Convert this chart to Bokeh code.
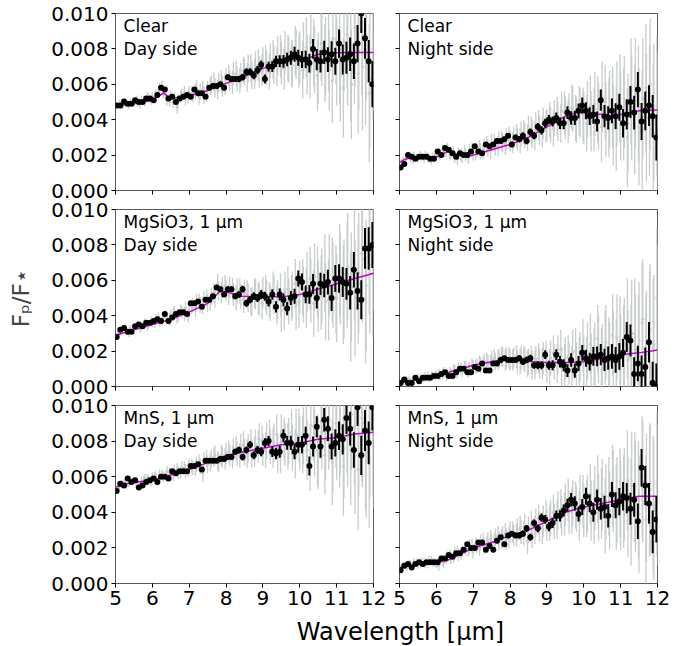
import numpy as np
from bokeh.plotting import figure
from bokeh.layouts import column, row
from bokeh.models import FixedTicker, PrintfTickFormatter, Label, CustomLabelingPolicy
from bokeh.embed import file_html
from bokeh.resources import INLINE

FONT = "DejaVu Sans"

# ---------------- data ----------------
x_ticks = [5, 6, 7, 8, 9, 10, 11, 12]
y_ticks = [0.000, 0.002, 0.004, 0.006, 0.008, 0.010]

panel_titles = ["Clear", "Clear", "MgSiO3, 1 μm", "MgSiO3, 1 μm", "MnS, 1 μm", "MnS, 1 μm"]
panel_sides = ["Day side", "Night side", "Day side", "Night side", "Day side", "Night side"]

# binned (black) spectra
clear_day_bin = [0.0048, 0.0048, 0.00503, 0.0049, 0.0049, 0.0051, 0.0050, 0.0050, 0.0052, 0.0052,
                 0.0051, 0.0054, 0.0058, 0.0057, 0.0052, 0.0053, 0.0050, 0.0052, 0.0053, 0.0054,
                 0.0053, 0.0057, 0.0055, 0.0055, 0.0053, 0.0058, 0.0059, 0.0059, 0.0060, 0.0058,
                 0.0064, 0.0063, 0.0063, 0.0063, 0.0064, 0.0067, 0.0067, 0.0065, 0.0068, 0.0071,
                 0.0063, 0.0070, 0.0070, 0.0073, 0.0073, 0.0073, 0.0074, 0.0075, 0.0077, 0.0075,
                 0.0074, 0.0074, 0.0072, 0.0080, 0.0074, 0.0073, 0.0078, 0.0074, 0.0077, 0.0073,
                 0.0083, 0.0074, 0.0075, 0.0077, 0.0073, 0.0083, 0.0100, 0.0086, 0.0073, 0.0060]
clear_night_bin = [0.0013, 0.0015, 0.0020, 0.0019, 0.0018, 0.0019, 0.0019, 0.0019, 0.0018, 0.0018,
                   0.0022, 0.0020, 0.0024, 0.0023, 0.0021, 0.0019, 0.0021, 0.0020, 0.0020, 0.0022,
                   0.0025, 0.0022, 0.0021, 0.0026, 0.0025, 0.0026, 0.0028, 0.0028, 0.0029, 0.0031,
                   0.0026, 0.0030, 0.0029, 0.0031, 0.0028, 0.0033, 0.0031, 0.0036, 0.0034, 0.0038,
                   0.0040, 0.0039, 0.0041, 0.0038, 0.0038, 0.0044, 0.0041, 0.0041, 0.0045, 0.0048,
                   0.0045, 0.0042, 0.0043, 0.0039, 0.0051, 0.0042, 0.0041, 0.0045, 0.0042, 0.0047,
                   0.0038, 0.0043, 0.0050, 0.0044, 0.0057, 0.0039, 0.0045, 0.0048, 0.0042, 0.0030]
mgsio3_day_bin = [0.0028, 0.0032, 0.0033, 0.0031, 0.0031, 0.0034, 0.0035, 0.0034, 0.0036, 0.0036,
                  0.0037, 0.0038, 0.0037, 0.0041, 0.0037, 0.0039, 0.0041, 0.0042, 0.0042, 0.0041,
                  0.0047, 0.0047, 0.0048, 0.0045, 0.0049, 0.0049, 0.0051, 0.0056, 0.0055, 0.0052,
                  0.0055, 0.0055, 0.0051, 0.0052, 0.0055, 0.0047, 0.0049, 0.0051, 0.0050, 0.0052,
                  0.0051, 0.0048, 0.0052, 0.0045, 0.0052, 0.0049, 0.0044, 0.0050, 0.0051, 0.0061,
                  0.0059, 0.0052, 0.0052, 0.0058, 0.0050, 0.0058, 0.0057, 0.0059, 0.0050, 0.0061,
                  0.0061, 0.0059, 0.0058, 0.0053, 0.0066, 0.0054, 0.0049, 0.0078, 0.0078, 0.0080]
mgsio3_night_bin = [0.0002, 0.0004, 0.0002, 0.0002, 0.0005, 0.0003, 0.0005, 0.0005, 0.0005, 0.0006,
                    0.0006, 0.0007, 0.0008, 0.0006, 0.0006, 0.0008, 0.0010, 0.0010, 0.0008, 0.0008,
                    0.0011, 0.0010, 0.0013, 0.0009, 0.0009, 0.0013, 0.0013, 0.0015, 0.0016, 0.0015,
                    0.0015, 0.0015, 0.0016, 0.0014, 0.0015, 0.0016, 0.0012, 0.0012, 0.0012, 0.0018,
                    0.0012, 0.0012, 0.0018, 0.0014, 0.0012, 0.0009, 0.0015, 0.0009, 0.0013, 0.0019,
                    0.0016, 0.0014, 0.0017, 0.0017, 0.0018, 0.0015, 0.0016, 0.0017, 0.0015, 0.0017,
                    0.0019, 0.0028, 0.0026, 0.0007, 0.0013, 0.0007, 0.0011, 0.0025, 0.0002, 0.0000]
mns_day_bin = [0.0052, 0.0056, 0.0055, 0.0059, 0.0057, 0.0058, 0.0054, 0.0055, 0.0057, 0.0058,
               0.0059, 0.0057, 0.0060, 0.0060, 0.0059, 0.0063, 0.0062, 0.0063, 0.0063, 0.0063,
               0.0066, 0.0066, 0.0067, 0.0064, 0.0069, 0.0069, 0.0069, 0.0069, 0.0070, 0.0070,
               0.0071, 0.0071, 0.0074, 0.0075, 0.0071, 0.0075, 0.0078, 0.0072, 0.0075, 0.0074,
               0.0079, 0.0080, 0.0074, 0.0073, 0.0074, 0.0083, 0.0079, 0.0079, 0.0074, 0.0078,
               0.0078, 0.0083, 0.0066, 0.0077, 0.0088, 0.0077, 0.0092, 0.0087, 0.0077, 0.0079,
               0.0083, 0.0081, 0.0093, 0.0087, 0.0075, 0.0099, 0.0072, 0.0086, 0.0079, 0.0099]
mns_night_bin = [0.00075, 0.0010, 0.0011, 0.0009, 0.0011, 0.0012, 0.0011, 0.0012, 0.0012, 0.0012,
                 0.0012, 0.0014, 0.0014, 0.0016, 0.0015, 0.0017, 0.0017, 0.0019, 0.0022, 0.0020,
                 0.0020, 0.0023, 0.0023, 0.0019, 0.0021, 0.0019, 0.0024, 0.0026, 0.0022, 0.0027,
                 0.0028, 0.0027, 0.0027, 0.0028, 0.0031, 0.0026, 0.0034, 0.0031, 0.0037, 0.0036,
                 0.0032, 0.0034, 0.0038, 0.0038, 0.0041, 0.0044, 0.0047, 0.0045, 0.0039, 0.0043,
                 0.0049, 0.0045, 0.0040, 0.0047, 0.0042, 0.0043, 0.0038, 0.0050, 0.0044, 0.0046,
                 0.0049, 0.0048, 0.0042, 0.0047, 0.0035, 0.0065, 0.0055, 0.0045, 0.0029, 0.0036]

bin_err = [0.0001, 0.0001, 0.0001, 0.0001, 0.0001, 0.0001, 0.0001, 0.0001, 0.0001, 0.0001,
           0.0001, 0.0001, 0.0001, 0.0001, 0.0001, 0.0001, 0.0001, 0.0001, 0.0001, 0.0001,
           0.0001, 0.0001, 0.00012, 0.00012, 0.00012, 0.00012, 0.00014, 0.00014, 0.00014, 0.00015,
           0.00015, 0.00016, 0.00017, 0.00018, 0.00019, 0.0002, 0.0002, 0.00022, 0.00023, 0.00025,
           0.00026, 0.00028, 0.0003, 0.00032, 0.00034, 0.00036, 0.00038, 0.0004, 0.00042, 0.00045,
           0.00048, 0.0005, 0.00053, 0.00056, 0.0006, 0.00063, 0.00066, 0.0007, 0.00073, 0.00076,
           0.0008, 0.00085, 0.0009, 0.00095, 0.001, 0.00105, 0.0011, 0.00115, 0.0012, 0.0013]

# full-resolution (grey) spectra, two interleaved sets per panel
clear_day_raw = [0.0048, 0.0049, 0.0050, 0.0048, 0.0050, 0.0051, 0.0049, 0.0051, 0.0053, 0.0051,
                 0.0053, 0.0056, 0.0059, 0.0054, 0.0051, 0.0050, 0.0047, 0.0053, 0.0055, 0.0053,
                 0.0055, 0.0056, 0.0053, 0.0057, 0.0055, 0.0059, 0.0061, 0.0057, 0.0062, 0.0060,
                 0.0065, 0.0061, 0.0066, 0.0062, 0.0068, 0.0064, 0.0069, 0.0066, 0.0071, 0.0068,
                 0.0072, 0.0067, 0.0074, 0.0070, 0.0076, 0.0069, 0.0075, 0.0072, 0.0079, 0.0073,
                 0.0068, 0.0081, 0.0070, 0.0078, 0.0065, 0.0083, 0.0072, 0.0079, 0.0062, 0.0085,
                 0.0075, 0.0058, 0.0088, 0.0070, 0.0082, 0.0066, 0.0090, 0.0074, 0.0055, 0.0080]
clear_day_raw2 = [0.0049, 0.0048, 0.0049, 0.0050, 0.0049, 0.0050, 0.0051, 0.0050, 0.0052, 0.0053,
                  0.0054, 0.0058, 0.0055, 0.0051, 0.0053, 0.0052, 0.0051, 0.0054, 0.0052, 0.0055,
                  0.0054, 0.0058, 0.0056, 0.0054, 0.0057, 0.0060, 0.0058, 0.0061, 0.0059, 0.0063,
                  0.0062, 0.0066, 0.0063, 0.0065, 0.0067, 0.0069, 0.0065, 0.0070, 0.0067, 0.0072,
                  0.0069, 0.0073, 0.0071, 0.0076, 0.0072, 0.0078, 0.0074, 0.0071, 0.0077, 0.0075,
                  0.0079, 0.0071, 0.0084, 0.0074, 0.0069, 0.0080, 0.0076, 0.0068, 0.0086, 0.0073,
                  0.0065, 0.0084, 0.0078, 0.0060, 0.0092, 0.0079, 0.0070, 0.0088, 0.0063, 0.0085]
clear_night_raw = [0.0016, 0.0018, 0.0020, 0.0017, 0.0019, 0.0020, 0.0018, 0.0019, 0.0017, 0.0020,
                   0.0021, 0.0023, 0.0022, 0.0020, 0.0021, 0.0018, 0.0020, 0.0022, 0.0019, 0.0023,
                   0.0021, 0.0024, 0.0022, 0.0026, 0.0023, 0.0027, 0.0025, 0.0028, 0.0026, 0.0030,
                   0.0027, 0.0031, 0.0028, 0.0033, 0.0030, 0.0034, 0.0031, 0.0037, 0.0033, 0.0036,
                   0.0040, 0.0035, 0.0042, 0.0038, 0.0044, 0.0039, 0.0047, 0.0041, 0.0045, 0.0043,
                   0.0038, 0.0048, 0.0040, 0.0046, 0.0036, 0.0050, 0.0041, 0.0047, 0.0035, 0.0052,
                   0.0043, 0.0030, 0.0056, 0.0040, 0.0049, 0.0034, 0.0058, 0.0045, 0.0032, 0.0048]
clear_night_raw2 = [0.0017, 0.0019, 0.0018, 0.0020, 0.0018, 0.0019, 0.0020, 0.0018, 0.0019, 0.0021,
                    0.0020, 0.0022, 0.0024, 0.0021, 0.0019, 0.0021, 0.0019, 0.0020, 0.0022, 0.0021,
                    0.0023, 0.0022, 0.0025, 0.0024, 0.0027, 0.0025, 0.0028, 0.0027, 0.0029, 0.0028,
                    0.0030, 0.0029, 0.0032, 0.0031, 0.0035, 0.0032, 0.0036, 0.0034, 0.0038, 0.0037,
                    0.0037, 0.0041, 0.0039, 0.0045, 0.0041, 0.0043, 0.0046, 0.0040, 0.0044, 0.0041,
                    0.0046, 0.0039, 0.0049, 0.0042, 0.0053, 0.0040, 0.0046, 0.0037, 0.0049, 0.0042,
                    0.0050, 0.0038, 0.0047, 0.0055, 0.0036, 0.0052, 0.0041, 0.0060, 0.0044, 0.0038]
mgsio3_day_raw = [0.0029, 0.0031, 0.0033, 0.0030, 0.0032, 0.0034, 0.0033, 0.0035, 0.0034, 0.0037,
                  0.0036, 0.0039, 0.0037, 0.0040, 0.0038, 0.0041, 0.0039, 0.0043, 0.0041, 0.0040,
                  0.0045, 0.0044, 0.0048, 0.0046, 0.0050, 0.0048, 0.0053, 0.0058, 0.0053, 0.0057,
                  0.0052, 0.0055, 0.0050, 0.0054, 0.0049, 0.0052, 0.0048, 0.0053, 0.0050, 0.0047,
                  0.0053, 0.0049, 0.0054, 0.0046, 0.0052, 0.0044, 0.0055, 0.0050, 0.0058, 0.0048,
                  0.0056, 0.0050, 0.0061, 0.0047, 0.0059, 0.0053, 0.0064, 0.0049, 0.0060, 0.0055,
                  0.0066, 0.0052, 0.0063, 0.0045, 0.0070, 0.0058, 0.0075, 0.0050, 0.0080, 0.0068]
mgsio3_day_raw2 = [0.0030, 0.0032, 0.0031, 0.0033, 0.0032, 0.0035, 0.0034, 0.0036, 0.0035, 0.0036,
                   0.0038, 0.0037, 0.0039, 0.0038, 0.0040, 0.0042, 0.0040, 0.0042, 0.0044, 0.0043,
                   0.0046, 0.0048, 0.0046, 0.0049, 0.0047, 0.0051, 0.0050, 0.0054, 0.0056, 0.0054,
                   0.0056, 0.0052, 0.0054, 0.0051, 0.0053, 0.0050, 0.0048, 0.0052, 0.0049, 0.0053,
                   0.0050, 0.0047, 0.0052, 0.0049, 0.0043, 0.0053, 0.0048, 0.0052, 0.0046, 0.0056,
                   0.0052, 0.0059, 0.0054, 0.0062, 0.0051, 0.0057, 0.0048, 0.0063, 0.0057, 0.0050,
                   0.0061, 0.0055, 0.0068, 0.0056, 0.0050, 0.0064, 0.0072, 0.0057, 0.0069, 0.0083]
mgsio3_night_raw = [0.0003, 0.0003, 0.0004, 0.0004, 0.0004, 0.0005, 0.0005, 0.0006, 0.0006, 0.0006,
                    0.0007, 0.0007, 0.0006, 0.0008, 0.0009, 0.0008, 0.0010, 0.0011, 0.0009, 0.0012,
                    0.0011, 0.0013, 0.0012, 0.0014, 0.0013, 0.0016, 0.0015, 0.0017, 0.0015, 0.0016,
                    0.0015, 0.0017, 0.0014, 0.0016, 0.0013, 0.0015, 0.0012, 0.0016, 0.0013, 0.0017,
                    0.0011, 0.0019, 0.0013, 0.0021, 0.0012, 0.0017, 0.0010, 0.0020, 0.0014, 0.0023,
                    0.0012, 0.0024, 0.0015, 0.0027, 0.0013, 0.0022, 0.0017, 0.0029, 0.0014, 0.0026,
                    0.0020, 0.0033, 0.0016, 0.0030, 0.0019, 0.0036, 0.0015, 0.0028, 0.0022, 0.0050]
mgsio3_night_raw2 = [0.0003, 0.0004, 0.0003, 0.0004, 0.0005, 0.0004, 0.0006, 0.0005, 0.0006, 0.0007,
                     0.0006, 0.0008, 0.0007, 0.0007, 0.0009, 0.0010, 0.0009, 0.0011, 0.0010, 0.0011,
                     0.0012, 0.0012, 0.0014, 0.0013, 0.0015, 0.0014, 0.0016, 0.0017, 0.0016, 0.0015,
                     0.0016, 0.0014, 0.0016, 0.0015, 0.0014, 0.0012, 0.0015, 0.0013, 0.0016, 0.0011,
                     0.0016, 0.0014, 0.0018, 0.0011, 0.0016, 0.0013, 0.0019, 0.0012, 0.0017, 0.0014,
                     0.0020, 0.0013, 0.0018, 0.0021, 0.0015, 0.0025, 0.0014, 0.0020, 0.0028, 0.0016,
                     0.0024, 0.0015, 0.0030, 0.0021, 0.0026, 0.0038, 0.0018, 0.0032, 0.0024, 0.0040]
mns_day_raw = [0.0055, 0.0056, 0.0058, 0.0056, 0.0057, 0.0056, 0.0055, 0.0058, 0.0059, 0.0057,
               0.0060, 0.0058, 0.0061, 0.0060, 0.0062, 0.0061, 0.0064, 0.0062, 0.0065, 0.0064,
               0.0066, 0.0065, 0.0068, 0.0062, 0.0070, 0.0068, 0.0071, 0.0069, 0.0072, 0.0070,
               0.0074, 0.0071, 0.0076, 0.0072, 0.0078, 0.0073, 0.0079, 0.0074, 0.0077, 0.0080,
               0.0075, 0.0082, 0.0076, 0.0084, 0.0074, 0.0081, 0.0077, 0.0085, 0.0073, 0.0083,
               0.0078, 0.0086, 0.0070, 0.0088, 0.0075, 0.0091, 0.0072, 0.0087, 0.0068, 0.0090,
               0.0080, 0.0066, 0.0092, 0.0075, 0.0088, 0.0064, 0.0093, 0.0078, 0.0070, 0.0089]
mns_day_raw2 = [0.0054, 0.0056, 0.0055, 0.0057, 0.0058, 0.0056, 0.0057, 0.0059, 0.0058, 0.0060,
                0.0059, 0.0061, 0.0060, 0.0063, 0.0061, 0.0063, 0.0062, 0.0065, 0.0063, 0.0066,
                0.0065, 0.0067, 0.0066, 0.0069, 0.0067, 0.0070, 0.0072, 0.0068, 0.0071, 0.0073,
                0.0072, 0.0075, 0.0073, 0.0077, 0.0074, 0.0076, 0.0073, 0.0078, 0.0081, 0.0075,
                0.0080, 0.0077, 0.0079, 0.0073, 0.0083, 0.0078, 0.0080, 0.0076, 0.0084, 0.0079,
                0.0083, 0.0075, 0.0089, 0.0079, 0.0073, 0.0085, 0.0080, 0.0092, 0.0076, 0.0083,
                0.0087, 0.0076, 0.0084, 0.0095, 0.0072, 0.0083, 0.0090, 0.0074, 0.0087, 0.0082]
mns_night_raw = [0.0009, 0.0010, 0.0011, 0.0010, 0.0012, 0.0011, 0.0012, 0.0011, 0.0013, 0.0012,
                 0.0010, 0.0013, 0.0014, 0.0016, 0.0015, 0.0018, 0.0017, 0.0020, 0.0019, 0.0021,
                 0.0022, 0.0020, 0.0024, 0.0022, 0.0025, 0.0023, 0.0027, 0.0025, 0.0028, 0.0026,
                 0.0029, 0.0027, 0.0031, 0.0028, 0.0024, 0.0033, 0.0030, 0.0036, 0.0031, 0.0038,
                 0.0034, 0.0040, 0.0036, 0.0042, 0.0039, 0.0047, 0.0041, 0.0044, 0.0038, 0.0046,
                 0.0042, 0.0050, 0.0040, 0.0053, 0.0045, 0.0038, 0.0049, 0.0055, 0.0043, 0.0051,
                 0.0046, 0.0058, 0.0040, 0.0054, 0.0047, 0.0060, 0.0036, 0.0052, 0.0044, 0.0056]
mns_night_raw2 = [0.0010, 0.0009, 0.0011, 0.0012, 0.0010, 0.0012, 0.0011, 0.0013, 0.0012, 0.0011,
                  0.0013, 0.0012, 0.0015, 0.0014, 0.0017, 0.0016, 0.0018, 0.0019, 0.0021, 0.0018,
                  0.0021, 0.0023, 0.0021, 0.0024, 0.0023, 0.0026, 0.0024, 0.0027, 0.0025, 0.0029,
                  0.0027, 0.0030, 0.0029, 0.0032, 0.0030, 0.0028, 0.0034, 0.0032, 0.0035, 0.0033,
                  0.0037, 0.0035, 0.0041, 0.0038, 0.0044, 0.0040, 0.0045, 0.0042, 0.0047, 0.0041,
                  0.0045, 0.0041, 0.0048, 0.0043, 0.0050, 0.0046, 0.0041, 0.0052, 0.0047, 0.0044,
                  0.0050, 0.0043, 0.0055, 0.0049, 0.0039, 0.0057, 0.0048, 0.0053, 0.0041, 0.0050]

raw_err = [0.0002, 0.0002, 0.0002, 0.0002, 0.0002, 0.00025, 0.00025, 0.00025, 0.00025, 0.00025,
           0.0003, 0.0003, 0.0003, 0.0003, 0.00035, 0.00035, 0.00035, 0.00035, 0.0004, 0.0004,
           0.0004, 0.00045, 0.00045, 0.0005, 0.0005, 0.0005, 0.00055, 0.00055, 0.0006, 0.0006,
           0.0006, 0.00065, 0.0007, 0.0007, 0.00075, 0.0008, 0.0008, 0.00085, 0.0009, 0.0009,
           0.001, 0.001, 0.0011, 0.0011, 0.0012, 0.0012, 0.0013, 0.0013, 0.0014, 0.0015,
           0.0016, 0.0017, 0.0018, 0.0019, 0.002, 0.0021, 0.0022, 0.0023, 0.0024, 0.0025,
           0.0026, 0.0028, 0.003, 0.0031, 0.0033, 0.0034, 0.0036, 0.0037, 0.0039, 0.004]

# model curves (magenta)
clear_day_model_x = [5.0, 5.5, 6.0, 6.15, 6.3, 6.5, 7.0, 7.5, 8.0, 8.5, 9.0, 9.5, 9.9, 10.2, 10.5, 11.0, 11.5, 12.0]
clear_day_model_y = [0.00478, 0.0049, 0.0051, 0.0053, 0.0055, 0.0052, 0.00535, 0.00565, 0.00605, 0.00645,
                     0.0069, 0.00725, 0.0075, 0.00745, 0.0077, 0.00778, 0.0078, 0.0078]
clear_night_model_x = [5.0, 5.2, 5.5, 6.0, 6.3, 6.6, 6.8, 7.0, 7.5, 8.0, 8.5, 9.0, 9.5, 9.8, 10.0, 10.5, 10.8, 11.0, 11.5, 12.0]
clear_night_model_y = [0.0016, 0.0018, 0.0019, 0.0019, 0.0022, 0.0020, 0.0019, 0.0020, 0.0023, 0.0026,
                       0.0030, 0.0036, 0.0042, 0.0044, 0.0044, 0.0043, 0.0042, 0.0043, 0.0045, 0.00455]
mgsio3_day_model_x = [5.0, 5.5, 6.0, 6.5, 7.0, 7.5, 7.85, 8.1, 8.4, 8.7, 9.0, 9.5, 10.0, 10.5, 11.0, 11.5, 12.0]
mgsio3_day_model_y = [0.0029, 0.0032, 0.0035, 0.0038, 0.0042, 0.0047, 0.0054, 0.0053, 0.0051, 0.00508,
                      0.0051, 0.00505, 0.0052, 0.0055, 0.0058, 0.0061, 0.0064]
mgsio3_night_model_x = [5.0, 5.5, 6.0, 6.5, 7.0, 7.5, 7.9, 8.3, 8.6, 9.0, 9.5, 10.0, 10.5, 11.0, 11.5, 12.0]
mgsio3_night_model_y = [0.0002, 0.0004, 0.0006, 0.0009, 0.0012, 0.0014, 0.00155, 0.00155, 0.0014, 0.00135,
                        0.00135, 0.0014, 0.0016, 0.0018, 0.0019, 0.00206]
mns_day_model_x = [5.0, 5.3, 5.6, 6.0, 6.5, 7.0, 7.5, 8.0, 8.5, 9.0, 9.5, 10.0, 10.5, 11.0, 11.5, 12.0]
mns_day_model_y = [0.0054, 0.0056, 0.0057, 0.0058, 0.0061, 0.0064, 0.0068, 0.0072, 0.0074, 0.0076,
                   0.0078, 0.0079, 0.0081, 0.0082, 0.0084, 0.0085]
mns_night_model_x = [5.0, 5.5, 6.0, 6.3, 6.6, 7.0, 7.5, 8.0, 8.5, 9.0, 9.5, 10.0, 10.5, 11.0, 11.5, 12.0]
mns_night_model_y = [0.0009, 0.0011, 0.0012, 0.0013, 0.0016, 0.0020, 0.0023, 0.0027, 0.0030, 0.0035,
                     0.0040, 0.0043, 0.0045, 0.0047, 0.0049, 0.0049]

bins = [clear_day_bin, clear_night_bin, mgsio3_day_bin, mgsio3_night_bin, mns_day_bin, mns_night_bin]
raws = [clear_day_raw, clear_night_raw, mgsio3_day_raw, mgsio3_night_raw, mns_day_raw, mns_night_raw]
raws2 = [clear_day_raw2, clear_night_raw2, mgsio3_day_raw2, mgsio3_night_raw2, mns_day_raw2, mns_night_raw2]
models = [(clear_day_model_x, clear_day_model_y), (clear_night_model_x, clear_night_model_y),
          (mgsio3_day_model_x, mgsio3_day_model_y), (mgsio3_night_model_x, mgsio3_night_model_y),
          (mns_day_model_x, mns_day_model_y), (mns_night_model_x, mns_night_model_y)]

bin_x = np.linspace(5.03, 11.97, len(clear_day_bin))
raw_x = np.linspace(5.063, 11.985, len(clear_day_raw))
raw2_x = np.linspace(5.097, 12.0, len(clear_day_raw2))

GREY = "#c8cccc"
MAGENTA = "#cc00cc"

# figure heights / borders per row (rows overlap by 13 px so tick labels are never cut)
heights = [206, 209, 225]
tops = [13, 16, 16]
bottoms = [16, 16, 31]


def hide_labels(ax):
    ax.major_label_policy = CustomLabelingPolicy(code="return new Set()")
    ax.major_label_text_font_size = "1px"
    ax.major_label_standoff = 0


def make_panel(k):
    r, c = divmod(k, 2)
    p = figure(width=386 if c == 0 else 301, height=heights[r],
               x_range=(5, 12), y_range=(0, 0.010),
               output_backend="svg", toolbar_location=None,
               min_border_left=115 if c == 0 else 13,
               min_border_right=13 if c == 0 else 30,
               min_border_top=tops[r], min_border_bottom=bottoms[r],
               border_fill_color=None, background_fill_color=None)
    p.grid.visible = False
    p.outline_line_color = "black"
    p.outline_line_width = 1
    p.outline_line_alpha = 0.65
    p.xaxis.ticker = FixedTicker(ticks=x_ticks)
    p.yaxis.ticker = FixedTicker(ticks=y_ticks)
    p.yaxis.formatter = PrintfTickFormatter(format="%.3f")
    p.axis.axis_line_color = None
    p.axis.major_tick_in = 0
    p.axis.major_tick_out = 4
    p.axis.major_tick_line_color = "black"
    p.axis.minor_tick_line_color = None
    p.axis.major_label_text_font = FONT
    p.axis.major_label_text_font_size = "20px"
    p.axis.major_label_text_color = "black"
    p.axis.major_label_standoff = 3
    if r < 2:
        hide_labels(p.xaxis[0])
    if c == 1:
        hide_labels(p.yaxis[0])
    if k == 2:
        p.yaxis.axis_label = "Fₚ/F⋆"
        p.yaxis.axis_label_text_font = FONT
        p.yaxis.axis_label_text_font_size = "23px"
        p.yaxis.axis_label_text_font_style = "normal"
        p.yaxis.axis_label_standoff = 14

    e_raw = np.array(raw_err)
    for xs, ys in ((raw_x, raws[k]), (raw2_x, raws2[k])):
        y_raw = np.array(ys)
        p.segment(x0=xs, y0=y_raw - e_raw, x1=xs, y1=y_raw + e_raw, line_color=GREY, line_width=1.3)
        p.scatter(x=xs, y=y_raw, size=3.2, fill_color=GREY, line_color=None)

    mx, my = models[k]
    p.line(x=mx, y=my, line_color=MAGENTA, line_width=1.5)

    y_bin = np.array(bins[k])
    e_bin = np.array(bin_err)
    p.segment(x0=bin_x, y0=y_bin - e_bin, x1=bin_x, y1=y_bin + e_bin, line_color="black", line_width=2)
    p.scatter(x=bin_x, y=y_bin, size=6, fill_color="black", line_color=None)

    p.add_layout(Label(x=5.22, y=0.00986, text=panel_titles[k], text_baseline="top",
                       text_font=FONT, text_font_size="17px", text_color="black"))
    p.add_layout(Label(x=5.22, y=0.00856, text=panel_sides[k], text_baseline="top",
                       text_font=FONT, text_font_size="17px", text_color="black"))
    return p


panels = [make_panel(k) for k in range(6)]

lab = figure(width=687, height=32, x_range=(0, 687), y_range=(0, 32),
             output_backend="svg", toolbar_location=None,
             min_border_left=0, min_border_right=0, min_border_top=0, min_border_bottom=0,
             border_fill_color=None, background_fill_color=None)
lab.axis.visible = False
lab.grid.visible = False
lab.outline_line_color = None
lab.text(x=[400], y=[29], text=["Wavelength [μm]"], text_align="center", text_baseline="top",
         text_font_size="24px", text_color="black", text_font={"value": FONT})

layout = column(row(panels[0], panels[1]),
                row(panels[2], panels[3], margin=(-13, 0, 0, 0)),
                row(panels[4], panels[5], margin=(-13, 0, 0, 0)),
                lab)

open("out.html", "w").write(file_html(layout, INLINE))
